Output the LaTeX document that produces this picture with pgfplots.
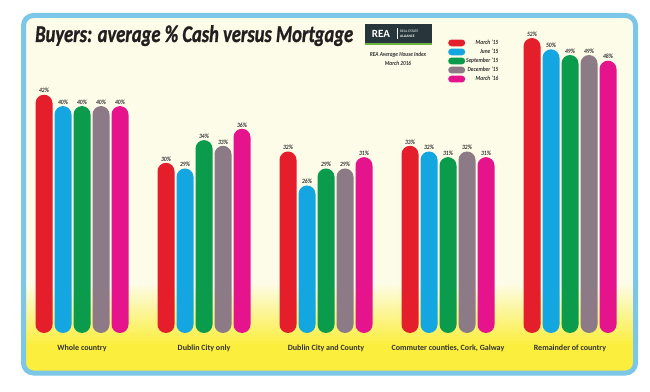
\documentclass[border=0pt]{standalone}
\usepackage{pgfplots}
\pgfplotsset{compat=1.18}
\usepackage{fontspec}
\setmainfont{Carlito}
\newfontfamily\cond[FakeStretch=0.86]{Carlito}
\newfontfamily\titlef[FakeBold=1.2]{Carlito}
\definecolor{cRed}{HTML}{E41E2B}
\definecolor{cBlue}{HTML}{14A6E0}
\definecolor{cGreen}{HTML}{0A9B4D}
\definecolor{cGrey}{HTML}{8C7B86}
\definecolor{cPink}{HTML}{E5148C}
\definecolor{cream}{HTML}{FDFCE8}
\definecolor{ybg}{HTML}{FBEE3C}
\definecolor{bblue}{HTML}{7CC6E8}
\definecolor{labelc}{HTML}{333333}
\definecolor{titlec}{HTML}{231F20}
\definecolor{readark}{HTML}{26363A}
\definecolor{reagreen}{HTML}{6DB33F}
\begin{document}
\begin{tikzpicture}[x=1pt,y=1pt]
\useasboundingbox (0,0) rectangle (650,391);
\fill[white] (0,0) rectangle (650,391);
\begin{scope}
\clip[rounded corners=10pt] (23.5,18) rectangle (635.5,375.5);
\fill[cream] (0,0) rectangle (650,391);
\fill[ybg] (0,0) rectangle (46,46);
\fill[ybg] (0,0) rectangle (650,46);
\shade[top color=cream, bottom color=ybg] (0,46) rectangle (650,108);
\end{scope}
\draw[bblue, line width=5pt, rounded corners=10pt] (23.5,18) rectangle (635.5,375.5);
% title
\node[anchor=base west, inner sep=0pt, text=titlec] at (35,349) {\resizebox{318pt}{\height}{\titlef\fontsize{24}{24}\selectfont\bfseries\itshape Buyers: average \% Cash versus Mortgage}};
% logo
\fill[readark] (365,348) rectangle (432,367);
\fill[reagreen] (365,345.5) rectangle (432,348);
\node[text=white, font=\fontsize{11}{11}\selectfont\bfseries, anchor=center] at (381,357.5) {REA};
\draw[white, line width=0.4pt] (397.5,352) -- (397.5,363);
\node[text=white, font=\fontsize{3.6}{4}\selectfont, anchor=west, inner sep=0pt] at (400,360) {REAL ESTATE};
\node[text=white, font=\fontsize{3.6}{4}\selectfont\bfseries, anchor=west, inner sep=0pt] at (400,355) {ALLIANCE};
\node[text=labelc, font=\cond\fontsize{6.2}{6.2}\selectfont\bfseries\itshape, anchor=center] at (398,336) {REA Average House Index};
\node[text=labelc, font=\cond\fontsize{6.2}{6.2}\selectfont\bfseries\itshape, anchor=center] at (398,328) {March 2016};
\begin{axis}[at={(21pt,58pt)}, anchor=south west, scale only axis,
  width=610pt, height=295pt,
  xmin=-0.5, xmax=4.5, ymin=0, ymax=52,
  axis line style={draw=none}, ytick=\empty, xtick={0,1,2,3,4},
  major tick length=0pt,
  xticklabels={Whole country, Dublin City only, Dublin City and County, {Commuter counties, Cork, Galway}, Remainder of country},
  xticklabel style={anchor=center, yshift=-15pt, font=\fontsize{8}{9}\selectfont\bfseries, text=labelc},
  ybar=2pt, bar width=17pt, clip=false,
  every axis plot/.append style={draw=none, rounded corners=8.5pt},
  /pgf/number format/assume math mode=true,
  nodes near coords={\pgfmathprintnumber{\pgfplotspointmeta}\%},
  every node near coord/.append style={font=\cond\fontsize{6.5}{7}\selectfont\bfseries\itshape, text=labelc, inner sep=1.5pt},
  legend cell align=right,
  legend image code/.code={\fill[#1, rounded corners=3.4pt] (0pt,-3.4pt) rectangle (17pt,3.4pt);},
  legend style={draw=none, fill=none, at={(axis description cs:0.700,0.997)}, anchor=north west,
    font=\cond\fontsize{6.3}{7}\selectfont\itshape\bfseries, text=labelc, row sep=1.4pt, inner sep=0pt,
    nodes={inner sep=0.8pt}},
]
\addplot[fill=cRed] coordinates {(0,42) (1,30) (2,32) (3,33) (4,52)};
\addplot[fill=cBlue] coordinates {(0,40) (1,29) (2,26) (3,32) (4,50)};
\addplot[fill=cGreen] coordinates {(0,40) (1,34) (2,29) (3,31) (4,49)};
\addplot[fill=cGrey] coordinates {(0,40) (1,33) (2,29) (3,32) (4,49)};
\addplot[fill=cPink] coordinates {(0,40) (1,36) (2,31) (3,31) (4,48)};
\legend{March ’15, June ’15, September ’15, December ’15, March ’16}
\end{axis}
\end{tikzpicture}
\end{document}
